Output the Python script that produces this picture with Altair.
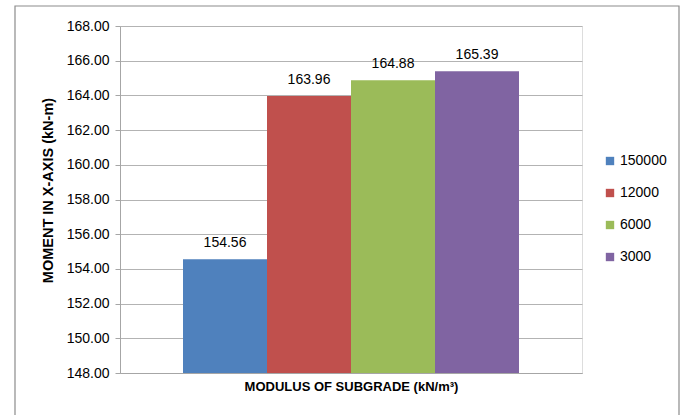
import altair as alt
import pandas as pd

series = ["150000", "12000", "6000", "3000"]
values = [154.56, 163.96, 164.88, 165.39]
colors = ["#4F81BD", "#C0504D", "#9BBB59", "#8064A2"]
yticks = [148, 150, 152, 154, 156, 158, 160, 162, 164, 166, 168]

df = pd.DataFrame({"series": series, "value": values, "label": [f"{v:.2f}" for v in values]})

FONT = "Liberation Sans"

x = alt.X("series:N", sort=series,
          scale=alt.Scale(paddingInner=0, paddingOuter=0.75),
          axis=alt.Axis(title="MODULUS OF SUBGRADE (kN/m³)", labels=False, ticks=False,
                        domainColor="#a6a6a6", titleFont=FONT, titleFontSize=13,
                        titleFontWeight="bold", titleColor="#000000", titlePadding=7))
y = alt.Y("value:Q",
          scale=alt.Scale(domain=[148, 168], zero=False, nice=False),
          axis=alt.Axis(title="MOMENT IN X-AXIS (kN-m)", values=yticks, tickCount=11,
                        format=".2f", labelFont=FONT, labelFontSize=14, labelColor="#000000",
                        labelOverlap=False, labelBound=False,
                        tickColor="#a6a6a6", domainColor="#a6a6a6", tickSize=5, labelPadding=6,
                        gridColor="#b3b3b3", titleFont=FONT, titleFontSize=14.5,
                        titleFontWeight="bold", titleColor="#000000", titlePadding=11,
                        titleY=164))

bars = alt.Chart(df).mark_bar(clip=True).encode(
    x=x, y=y, y2=alt.datum(148),
    color=alt.Color("series:N", sort=series,
                    scale=alt.Scale(domain=series, range=colors),
                    legend=alt.Legend(title=None, orient="none", legendX=483, legendY=128,
                                      symbolType="square", symbolSize=70, symbolStrokeWidth=0,
                                      labelFont=FONT, labelFontSize=14, labelColor="#000000",
                                      rowPadding=18, labelOffset=3)),
)

text = alt.Chart(df).mark_text(baseline="bottom", dy=-9, font=FONT, fontSize=14, color="#000000").encode(
    x=x, y=y, text="label:N")

border = alt.Chart(pd.DataFrame({"a": [0]})).mark_rect(fill=None, stroke="#8c8c8c", strokeWidth=1.2).encode(
    x=alt.value(-105), x2=alt.value(559), y=alt.value(-20), y2=alt.value(400))

chart = alt.layer(border, bars, text).properties(
    width=462, height=347,
    autosize=alt.AutoSizeParams(type="none"),
    padding={"left": 120, "top": 26, "right": 101, "bottom": 42},
).configure_view(stroke=None).configure(background="white")

chart.save("out.html", embed_options={"renderer": "svg", "actions": False})
